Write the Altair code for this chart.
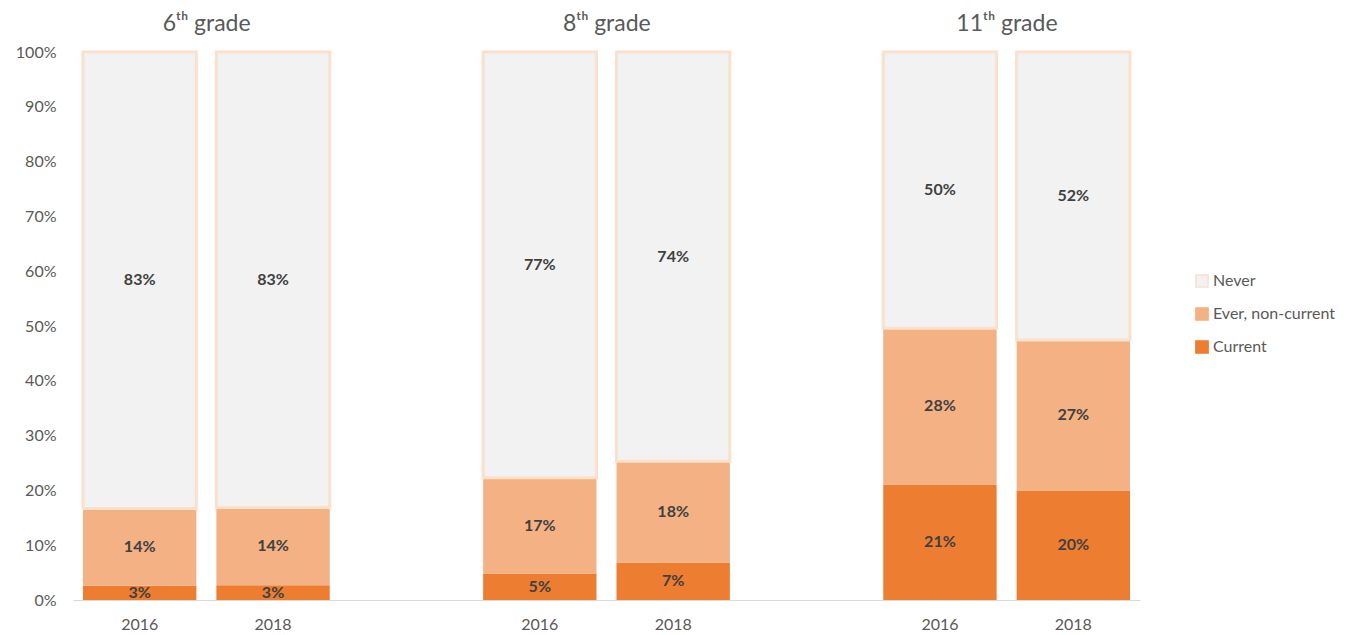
import altair as alt
import pandas as pd

# ---- data ----
slots = ["6|2016", "6|2018", "gap1", "8|2016", "8|2018", "gap2", "11|2016", "11|2018"]
bar_slots = ["6|2016", "6|2018", "8|2016", "8|2018", "11|2016", "11|2018"]
series = ["Never", "Ever, non-current", "Current"]
current = [2.6, 2.7, 4.8, 6.8, 21.0, 19.9]
ever = [14.1, 14.2, 17.4, 18.4, 28.4, 27.4]
never = [83.3, 83.1, 77.4, 74.4, 50.2, 52.4]
grade_titles = ["6ᵗʰ grade", "8ᵗʰ grade", "11ᵗʰ grade"]
grade_anchor = ["6|2016", "8|2016", "11|2016"]
fill_colors = ["#F2F2F2", "#F4B183", "#ED7D31"]
stroke_colors = ["#FBE0CC", "#F4B183", "#ED7D31"]

rows = []
for i, s in enumerate(bar_slots):
    rows.append({"slot": s, "series": "Current", "ord": 0, "value": current[i]})
    rows.append({"slot": s, "series": "Ever, non-current", "ord": 1, "value": ever[i]})
    rows.append({"slot": s, "series": "Never", "ord": 2, "value": never[i]})
df = pd.DataFrame(rows)
titles_df = pd.DataFrame({"slot": grade_anchor, "title": grade_titles})

FONT = "Lato"
GREY = "#595959"

xscale = alt.Scale(domain=slots, paddingInner=0.15, paddingOuter=0.075)
xaxis = alt.Axis(
    title=None,
    labelExpr="indexof(datum.value, '|') >= 0 ? split(datum.value, '|')[1] : ''",
    ticks=False,
    labelAngle=0,
    labelFontSize=16,
    labelColor=GREY,
    labelPadding=16,
    domainColor="#D9D9D9",
    domainWidth=1,
)
yscale = alt.Scale(domain=[0, 1])
yaxis = alt.Axis(
    title=None,
    format=".0%",
    values=[0, 0.1, 0.2, 0.3, 0.4, 0.5, 0.6, 0.7, 0.8, 0.9, 1.0],
    domain=False,
    ticks=False,
    grid=False,
    labelFontSize=16,
    labelColor=GREY,
    labelPadding=17,
    minExtent=60,
    maxExtent=60,
)

base = alt.Chart(df).transform_stack(
    stack="value",
    groupby=["slot"],
    as_=["y0", "y1"],
    offset="normalize",
    sort=[alt.SortField("ord", order="ascending")],
).transform_calculate(
    mid="(datum.y0 + datum.y1) / 2",
    label="format(datum.value / 100, '.0%')",
)

bars = base.mark_bar().encode(
    x=alt.X("slot:N", scale=xscale, axis=xaxis),
    y=alt.Y("y0:Q", scale=yscale, axis=yaxis),
    y2="y1:Q",
    color=alt.Color(
        "series:N",
        scale=alt.Scale(domain=series, range=fill_colors),
        title=None,
        legend=alt.Legend(
            orient="none",
            legendX=1121,
            legendY=221,
            symbolType="square",
            symbolSize=150,
            symbolStrokeWidth=1.5,
            labelFontSize=16,
            labelColor=GREY,
            labelFont=FONT,
            rowPadding=13,
            labelOffset=3,
        ),
    ),
    stroke=alt.Stroke(
        "series:N",
        scale=alt.Scale(domain=series, range=stroke_colors),
        title=None,
    ),
    strokeWidth=alt.condition(alt.datum.series == "Never", alt.value(3), alt.value(0)),
)

labels = base.mark_text(
    fontWeight="bold", fontSize=16, color="#404040", font=FONT, baseline="middle"
).encode(
    x=alt.X("slot:N", scale=xscale, axis=xaxis),
    y=alt.Y("mid:Q", scale=yscale, axis=yaxis),
    text="label:N",
)

titles = alt.Chart(titles_df).mark_text(
    fontSize=23, color=GREY, font=FONT, dx=67, baseline="middle"
).encode(
    x=alt.X("slot:N", scale=xscale, axis=xaxis),
    y=alt.value(-28),
    text="title:N",
)

chart = alt.layer(bars, labels, titles).properties(
    width=1067,
    height=548,
    padding={"left": 5, "top": 5, "right": 5, "bottom": 5},
).configure_view(stroke=None).configure_axis(labelFont=FONT).configure_legend(labelFont=FONT)

chart.save("out.html", embed_options={"renderer": "svg", "actions": False})
